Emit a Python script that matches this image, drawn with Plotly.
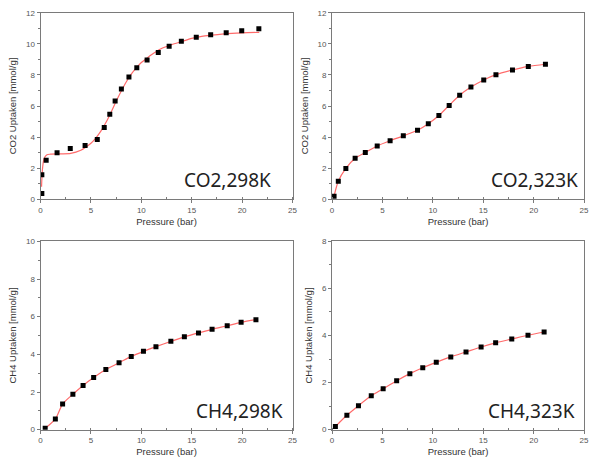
import plotly.graph_objects as go

# ---- data ----
co2_298_p = [0.13, 0.13, 0.56, 1.64, 2.95, 4.42, 5.63, 6.32, 6.87, 7.40, 8.02, 8.77, 9.55,
             10.57, 11.68, 12.76, 13.97, 15.45, 16.88, 18.42, 19.96, 21.66]
co2_298_q = [0.36, 1.58, 2.50, 2.99, 3.26, 3.45, 3.85, 4.61, 5.47, 6.32, 7.09, 7.87, 8.46,
             8.97, 9.45, 9.85, 10.17, 10.42, 10.59, 10.72, 10.84, 10.97]
co2_298_fit_p = [0.1, 0.2, 0.35, 0.6, 1.0, 2.0, 3.0, 4.0, 4.5, 5.0, 5.5, 6.0, 6.5, 7.0, 7.5,
                 8.0, 8.5, 9.0, 9.5, 10.0, 10.5, 11.0, 12.0, 13.0, 14.0, 15.0, 16.0, 17.0,
                 18.0, 19.0, 20.0, 21.7]
co2_298_fit_q = [0.8, 2.0, 2.6, 2.85, 2.9, 2.92, 2.95, 3.15, 3.35, 3.6, 3.95, 4.4, 4.95, 5.6,
                 6.3, 6.95, 7.55, 8.05, 8.45, 8.8, 9.05, 9.3, 9.7, 9.95, 10.15, 10.35, 10.48,
                 10.56, 10.63, 10.68, 10.71, 10.74]

co2_323_p = [0.2, 0.62, 1.37, 2.29, 3.3, 4.48, 5.76, 7.07, 8.48, 9.55, 10.6, 11.62, 12.66,
             13.78, 15.05, 16.26, 17.9, 19.47, 21.17]
co2_323_q = [0.19, 1.16, 1.98, 2.63, 3.01, 3.43, 3.77, 4.08, 4.44, 4.86, 5.39, 6.04, 6.69,
             7.22, 7.68, 8.02, 8.32, 8.55, 8.69]

ch4_298_p = [0.46, 1.47, 2.19, 3.21, 4.22, 5.27, 6.48, 7.79, 9.0, 10.21, 11.45, 12.93, 14.27,
             15.67, 17.02, 18.52, 19.9, 21.37]
ch4_298_q = [0.07, 0.57, 1.36, 1.88, 2.35, 2.77, 3.19, 3.55, 3.89, 4.16, 4.41, 4.69, 4.93,
             5.14, 5.33, 5.52, 5.70, 5.84]

ch4_323_p = [0.33, 1.47, 2.62, 3.89, 5.07, 6.41, 7.72, 9.0, 10.34, 11.78, 13.29, 14.79,
             16.23, 17.83, 19.44, 21.04]
ch4_323_q = [0.13, 0.61, 1.02, 1.44, 1.74, 2.08, 2.38, 2.63, 2.86, 3.09, 3.30, 3.51, 3.69,
             3.85, 4.01, 4.15]

labels = ["CO2,298K", "CO2,323K", "CH4,298K", "CH4,323K"]
ytitles = ["CO2 Uptaken [mmol/g]", "CO2 Uptaken [mmol/g]",
           "CH4 Uptaken [mmol/g]", "CH4 Uptaken [mmol/g]"]
ymax = [12, 12, 10, 8]
xtitle = "Pressure (bar)"

# ---- layout geometry ----
W, H = 592, 469
xdom = [[39 / W, 294 / W], [334 / W, 589 / W], [39 / W, 294 / W], [334 / W, 589 / W]]
ydom = [[1 - 199 / H, 1 - 9 / H], [1 - 199 / H, 1 - 9 / H],
        [1 - 434 / H, 1 - 242 / H], [1 - 434 / H, 1 - 242 / H]]
lab_x = [0.922, 0.984, 0.969, 0.973]
lab_y = [0.103, 0.103, 0.099, 0.099]

LINE = "#ff6b6b"
AX = "#7a7a7a"
TICKF = dict(family="Liberation Sans, Arial", size=8, color="#555")
TITLEF = dict(family="Liberation Sans, Arial", size=9.5, color="#333")

fig = go.Figure()

series = [
    (co2_298_p, co2_298_q, co2_298_fit_p, co2_298_fit_q),
    (co2_323_p, co2_323_q, co2_323_p, co2_323_q),
    (ch4_298_p, ch4_298_q, ch4_298_p, ch4_298_q),
    (ch4_323_p, ch4_323_q, ch4_323_p, ch4_323_q),
]

for i, (px, py, fx, fy) in enumerate(series):
    xa = "x" if i == 0 else f"x{i+1}"
    ya = "y" if i == 0 else f"y{i+1}"
    fig.add_trace(go.Scatter(x=fx, y=fy, mode="lines", xaxis=xa, yaxis=ya,
                             line=dict(color=LINE, width=1.2, shape="spline", smoothing=0.8),
                             showlegend=False, hoverinfo="skip"))
    fig.add_trace(go.Scatter(x=px, y=py, mode="markers", xaxis=xa, yaxis=ya,
                             marker=dict(symbol="square", size=5, color="black"),
                             showlegend=False))

layout = dict(width=W, height=H, margin=dict(l=0, r=0, t=0, b=0),
              paper_bgcolor="white", plot_bgcolor="white", showlegend=False)

annotations = []
for i in range(4):
    k = "" if i == 0 else str(i + 1)
    layout[f"xaxis{k}"] = dict(
        domain=xdom[i], anchor=f"y{k}", range=[0, 25], dtick=5, tick0=0,
        showgrid=False, zeroline=False, showline=True, linecolor=AX, linewidth=1,
        mirror=True, ticks="outside", ticklen=3, tickcolor=AX, tickfont=TICKF,
        minor=dict(ticks="inside", ticklen=2, tickcolor=AX, dtick=2.5),
        title=dict(text=xtitle, font=TITLEF, standoff=4))
    layout[f"yaxis{k}"] = dict(
        domain=ydom[i], anchor=f"x{k}", range=[0, ymax[i]], dtick=2, tick0=0,
        showgrid=False, zeroline=False, showline=True, linecolor=AX, linewidth=1,
        mirror=True, ticks="outside", ticklen=3, tickcolor=AX, tickfont=TICKF,
        minor=dict(ticks="outside", ticklen=2, tickcolor=AX, dtick=1),
        title=dict(text=ytitles[i], font=TITLEF, standoff=7))
    annotations.append(dict(
        text=labels[i], xref=f"x{k} domain", yref=f"y{k} domain",
        x=lab_x[i], y=lab_y[i], xanchor="right", yanchor="middle",
        showarrow=False,
        font=dict(family="Noto Sans, Open Sans", size=19, color="#222")))

layout["annotations"] = annotations
fig.update_layout(**layout)
fig.write_html("out.html")
